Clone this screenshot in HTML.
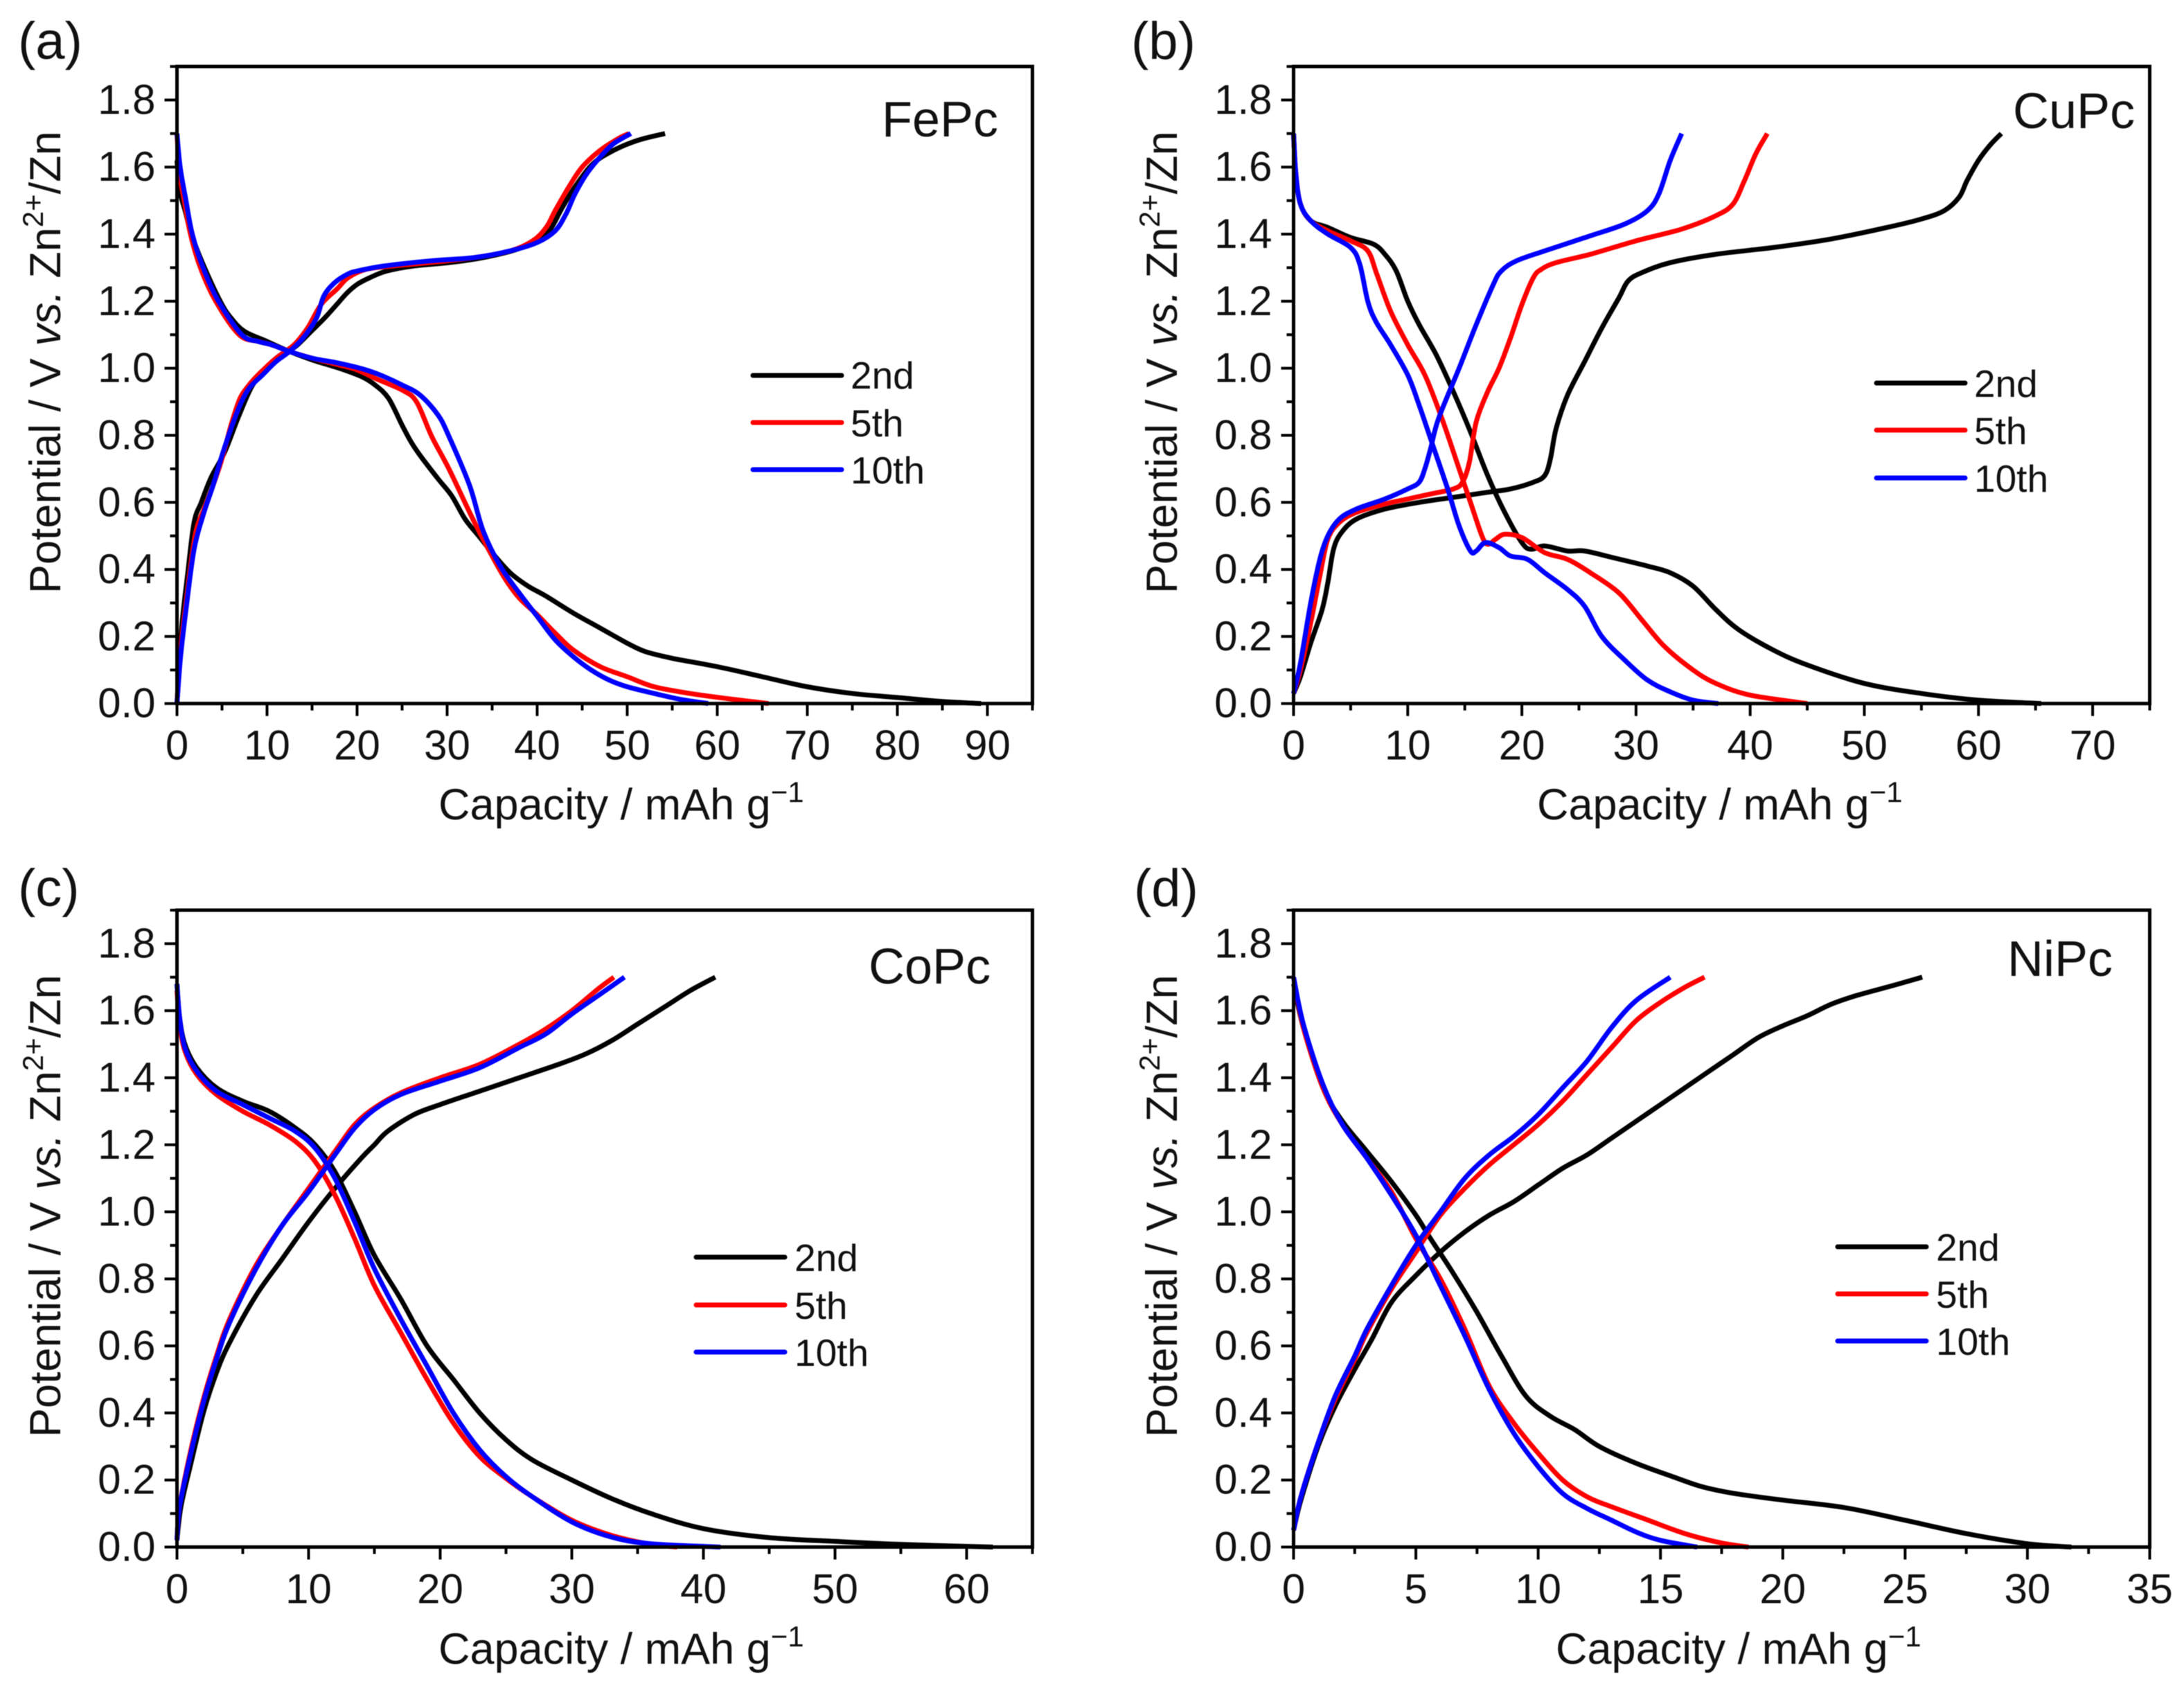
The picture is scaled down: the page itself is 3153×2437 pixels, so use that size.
<!DOCTYPE html>
<html>
<head>
<meta charset="utf-8">
<title>Charge-discharge curves of metal phthalocyanines</title>
<style>
html,body{margin:0;padding:0;background:#fff;}
svg{display:block;filter:blur(0.6px);}
text{font-family:"Liberation Sans",Arial,sans-serif;fill:#111;}
.tick{font-size:60px;}
.title{font-size:63px;}
.plabel{font-size:76px;}
.name{font-size:72px;}
.leg{font-size:55px;}
</style>
</head>
<body>
<svg id="figure" xmlns="http://www.w3.org/2000/svg" width="3153" height="2437" viewBox="0 0 3153 2437">
  <rect width="3153" height="2437" fill="#fff"/>

  <g id="panel-a"></g>
  <g id="panel-b"></g>
  <g id="panel-c"></g>
  <g id="panel-d"></g>

  <text class="plabel" x="26" y="85">(a)</text>
  <text class="plabel" x="1633" y="85">(b)</text>
  <text class="plabel" x="26" y="1308">(c)</text>
  <text class="plabel" x="1637" y="1308">(d)</text>

  <text class="name" x="1273" y="197">FePc</text>
  <text class="name" x="2906" y="185">CuPc</text>
  <text class="name" x="1254" y="1420">CoPc</text>
  <text class="name" x="2898" y="1409">NiPc</text>

  <text class="title" x="633" y="1183">Capacity / mAh g<tspan dy="-25" font-size="42">−1</tspan></text>
  <text class="title" x="2219" y="1183">Capacity / mAh g<tspan dy="-25" font-size="42">−1</tspan></text>
  <text class="title" x="633" y="2402">Capacity / mAh g<tspan dy="-25" font-size="42">−1</tspan></text>
  <text class="title" x="2246" y="2402">Capacity / mAh g<tspan dy="-25" font-size="42">−1</tspan></text>

  <text class="title" transform="translate(87,857) rotate(-90)">Potential / V <tspan font-style="italic">vs.</tspan> Zn<tspan dy="-25" font-size="42">2+</tspan><tspan dy="25">/Zn</tspan></text>
  <text class="title" transform="translate(1699,857) rotate(-90)">Potential / V <tspan font-style="italic">vs.</tspan> Zn<tspan dy="-25" font-size="42">2+</tspan><tspan dy="25">/Zn</tspan></text>
  <text class="title" transform="translate(87,2075) rotate(-90)">Potential / V <tspan font-style="italic">vs.</tspan> Zn<tspan dy="-25" font-size="42">2+</tspan><tspan dy="25">/Zn</tspan></text>
  <text class="title" transform="translate(1699,2075) rotate(-90)">Potential / V <tspan font-style="italic">vs.</tspan> Zn<tspan dy="-25" font-size="42">2+</tspan><tspan dy="25">/Zn</tspan></text>

  <g stroke-width="7" fill="none" stroke-linecap="round">
    <line x1="1087" x2="1215" y1="542" y2="542" stroke="#000"/>
    <line x1="1087" x2="1215" y1="610" y2="610" stroke="#f00"/>
    <line x1="1087" x2="1215" y1="678" y2="678" stroke="#00f"/>
    <text class="leg" x="1228" y="561" stroke="none">2nd</text>
    <text class="leg" x="1228" y="630" stroke="none">5th</text>
    <text class="leg" x="1228" y="698" stroke="none">10th</text>
  </g>
  <g stroke-width="7" fill="none" stroke-linecap="round">
    <line x1="2709" x2="2837" y1="553" y2="553" stroke="#000"/>
    <line x1="2709" x2="2837" y1="621" y2="621" stroke="#f00"/>
    <line x1="2709" x2="2837" y1="690" y2="690" stroke="#00f"/>
    <text class="leg" x="2850" y="573" stroke="none">2nd</text>
    <text class="leg" x="2850" y="641" stroke="none">5th</text>
    <text class="leg" x="2850" y="710" stroke="none">10th</text>
  </g>
  <g stroke-width="7" fill="none" stroke-linecap="round">
    <line x1="1005" x2="1133" y1="1815" y2="1815" stroke="#000"/>
    <line x1="1005" x2="1133" y1="1884" y2="1884" stroke="#f00"/>
    <line x1="1005" x2="1133" y1="1952" y2="1952" stroke="#00f"/>
    <text class="leg" x="1147" y="1835" stroke="none">2nd</text>
    <text class="leg" x="1147" y="1904" stroke="none">5th</text>
    <text class="leg" x="1147" y="1972" stroke="none">10th</text>
  </g>
  <g stroke-width="7" fill="none" stroke-linecap="round">
    <line x1="2653" x2="2781" y1="1800" y2="1800" stroke="#000"/>
    <line x1="2653" x2="2781" y1="1868" y2="1868" stroke="#f00"/>
    <line x1="2653" x2="2781" y1="1936" y2="1936" stroke="#00f"/>
    <text class="leg" x="2795" y="1820" stroke="none">2nd</text>
    <text class="leg" x="2795" y="1888" stroke="none">5th</text>
    <text class="leg" x="2795" y="1956" stroke="none">10th</text>
  </g>
</svg>
<script>
// Shared y axis
const yMajorTicks = [0,0.2,0.4,0.6,0.8,1.0,1.2,1.4,1.6,1.8];
const yMinorTicks = [0.1,0.3,0.5,0.7,0.9,1.1,1.3,1.5,1.7,1.9];
const yMax = 1.9;

// Panel a: FePc
const xMajorA = [0,10,20,30,40,50,60,70,80,90];
const xMinorA = [5,15,25,35,45,55,65,75,85,95];
const xMaxA = 95;
const aCharge2nd = [[0,0],[0.5,0.22],[1.2,0.39],[1.9,0.54],[2.7,0.6],[3.8,0.675],[5.3,0.75],[6.9,0.86],[8.4,0.95],[10,1.0],[11.9,1.04],[13.4,1.07],[14.9,1.11],[16.4,1.15],[17.9,1.195],[18.9,1.225],[20,1.25],[21.4,1.27],[23.3,1.29],[26.3,1.305],[30.2,1.315],[34,1.33],[37.8,1.355],[40.5,1.39],[41.6,1.42],[42.8,1.48],[44.3,1.545],[46.2,1.61],[48.5,1.65],[51.2,1.68],[54.2,1.7]];
const aDischarge2nd = [[0,1.62],[0.3,1.53],[0.9,1.47],[1.6,1.4],[2.9,1.31],[4.8,1.2],[6,1.15],[7.5,1.11],[10,1.08],[12.5,1.05],[15,1.025],[18,1.0],[20.5,0.975],[22,0.95],[23.5,0.91],[25,0.83],[26,0.78],[27,0.74],[29,0.67],[30.5,0.62],[32,0.55],[33.5,0.5],[35,0.45],[37,0.39],[39,0.35],[41,0.32],[44,0.27],[47,0.225],[50,0.18],[52,0.155],[55,0.135],[60,0.11],[65,0.08],[70,0.05],[75,0.03],[80,0.018],[85,0.006],[89.3,0]];
const aCharge5th = [[0,0],[0.4,0.16],[1,0.3],[2,0.5],[3,0.58],[4,0.65],[5,0.73],[6,0.83],[7,0.91],[8,0.95],[9,0.98],[11,1.03],[13,1.07],[14.5,1.12],[16,1.19],[17.8,1.237],[19,1.27],[21,1.295],[24,1.305],[28,1.315],[33,1.33],[37,1.35],[39.5,1.38],[41,1.42],[42,1.47],[43.5,1.54],[45,1.6],[47,1.65],[49,1.685],[50.2,1.7]];
const aDischarge5th = [[0,1.7],[0.3,1.58],[0.8,1.5],[1.5,1.4],[2.6,1.3],[4.3,1.2],[6.9,1.1],[9,1.08],[10.5,1.07],[12.5,1.05],[15,1.03],[18,1.01],[20,0.995],[22,0.97],[25,0.935],[26.6,0.9],[28.3,0.796],[30.2,0.7],[32.5,0.57],[34,0.49],[36.3,0.378],[38,0.315],[40,0.265],[42,0.21],[44,0.16],[47,0.11],[50,0.08],[53,0.05],[57,0.03],[61,0.015],[65.7,0]];
const aCharge10th = [[0,0],[0.4,0.14],[1,0.28],[1.9,0.46],[3,0.57],[4,0.65],[5,0.74],[6,0.82],[7,0.89],[8,0.94],[9.5,0.98],[11,1.02],[12.5,1.05],[14,1.09],[15.5,1.15],[16.3,1.215],[17.5,1.255],[18.9,1.28],[20,1.29],[23,1.305],[28,1.32],[33,1.33],[37,1.35],[40,1.375],[42,1.41],[43.2,1.46],[44.2,1.52],[45.5,1.58],[47,1.63],[48.5,1.67],[50.4,1.7]];
const aDischarge10th = [[0,1.7],[0.35,1.6],[1,1.5],[1.7,1.4],[2.9,1.3],[4.6,1.2],[7.2,1.1],[9,1.08],[10.5,1.07],[12.5,1.05],[15,1.03],[18,1.015],[21,0.995],[23,0.975],[25,0.95],[27,0.92],[29,0.86],[30.2,0.797],[32.5,0.65],[34,0.515],[35.9,0.41],[38,0.33],[40,0.26],[42,0.19],[44,0.14],[46,0.1],[48,0.07],[50,0.05],[53,0.03],[56,0.012],[59,0]];

// Panel b: CuPc
const xMajorB = [0,10,20,30,40,50,60,70];
const xMinorB = [5,15,25,35,45,55,65,75];
const xMaxB = 75;
const bCharge2nd = [[0,0.03],[0.6,0.08],[1.5,0.18],[2.5,0.28],[3,0.36],[3.5,0.46],[4.2,0.51],[5.5,0.55],[8,0.58],[11,0.6],[14,0.615],[17,0.63],[19,0.64],[21,0.66],[22,0.68],[22.5,0.73],[23,0.82],[24,0.92],[25.5,1.02],[27,1.12],[28.5,1.21],[29.3,1.26],[30.5,1.285],[33,1.315],[37,1.34],[42,1.36],[47,1.385],[52,1.42],[55,1.445],[57,1.47],[58.3,1.51],[59,1.56],[60,1.62],[61,1.665],[62,1.7]];
const bDischarge2nd = [[0,1.7],[0.2,1.58],[0.6,1.49],[1.5,1.44],[3,1.42],[5,1.39],[7,1.37],[8,1.34],[9,1.29],[10,1.2],[11,1.13],[12.5,1.04],[14,0.93],[15.5,0.81],[17,0.68],[18.5,0.57],[20,0.48],[20.8,0.46],[22,0.47],[24,0.455],[25.5,0.455],[28,0.435],[31,0.41],[33,0.39],[35,0.35],[37,0.28],[39,0.22],[42,0.16],[45,0.115],[50,0.06],[55,0.03],[60,0.01],[65.5,0]];
const bCharge5th = [[0,0.03],[0.6,0.1],[1.5,0.24],[2.3,0.38],[3,0.49],[4,0.54],[5.5,0.57],[8,0.595],[10,0.61],[12,0.625],[14,0.64],[14.8,0.66],[15.4,0.72],[16,0.84],[17,0.93],[18,1.0],[19,1.09],[20,1.19],[21,1.27],[21.7,1.295],[23,1.315],[26,1.34],[30,1.38],[34,1.415],[37,1.455],[38.5,1.49],[39.5,1.56],[40.5,1.64],[41.5,1.7]];
const bDischarge5th = [[0,1.7],[0.2,1.58],[0.6,1.49],[1.5,1.44],[3,1.41],[5,1.38],[6.5,1.35],[7.3,1.28],[8.5,1.17],[10,1.07],[11.5,0.98],[13,0.85],[14.5,0.7],[15.5,0.6],[16.5,0.5],[17,0.475],[17.7,0.49],[18.5,0.505],[20,0.495],[22,0.45],[24,0.43],[26,0.39],[28.5,0.33],[30.5,0.25],[32.5,0.17],[35,0.1],[37,0.06],[40,0.025],[45,0]];
const bCharge10th = [[0,0.03],[0.6,0.12],[1.5,0.3],[2.3,0.43],[3,0.5],[4,0.55],[5.5,0.58],[8,0.61],[10,0.64],[11,0.66],[11.5,0.7],[12,0.76],[12.7,0.85],[14.5,1.0],[16,1.13],[17.5,1.25],[18.2,1.29],[19.5,1.32],[22,1.35],[26,1.395],[29,1.43],[31,1.47],[32,1.52],[33,1.62],[34,1.7]];
const bDischarge10th = [[0,1.7],[0.2,1.58],[0.6,1.49],[1.5,1.44],[3,1.4],[5,1.36],[5.8,1.31],[6.5,1.2],[7.2,1.14],[8.5,1.07],[10,0.98],[11,0.89],[12,0.79],[13.5,0.64],[14.5,0.53],[15.5,0.455],[16,0.455],[16.8,0.48],[18,0.465],[19,0.44],[20.5,0.43],[22,0.39],[24,0.34],[25.5,0.29],[27,0.2],[29,0.13],[31,0.07],[33,0.035],[35,0.01],[37.2,0]];

// Panel c: CoPc
const xMajorC = [0,10,20,30,40,50,60];
const xMinorC = [5,15,25,35,45,55,65];
const xMaxC = 65;
const cCharge2nd = [[0,0.02],[0.3,0.12],[1,0.24],[2,0.4],[3,0.52],[4,0.61],[6,0.75],[8,0.86],[10,0.97],[12,1.07],[14,1.16],[15,1.2],[16,1.24],[18,1.29],[20,1.32],[23,1.36],[26,1.4],[29,1.44],[31,1.47],[33,1.51],[35,1.56],[37,1.61],[39,1.66],[40.9,1.7]];
const cDischarge2nd = [[0,1.68],[0.2,1.58],[0.6,1.5],[1.5,1.43],[3,1.37],[5,1.33],[7,1.3],[9,1.25],[10.5,1.2],[12,1.12],[13.5,1.0],[15,0.87],[17,0.74],[19,0.6],[21,0.5],[23,0.4],[25,0.32],[27,0.26],[30,0.2],[33,0.145],[36,0.1],[40,0.055],[45,0.028],[50,0.017],[55,0.008],[62,0]];
const cCharge5th = [[0,0.02],[0.2,0.12],[1,0.28],[2,0.44],[3,0.57],[4,0.68],[6,0.84],[8,0.96],[10,1.07],[12,1.18],[13.5,1.26],[15,1.31],[17,1.355],[20,1.4],[23,1.44],[26,1.5],[28,1.545],[30,1.6],[32,1.665],[33.2,1.7]];
const cDischarge5th = [[0,1.66],[0.2,1.56],[0.6,1.48],[1.5,1.41],[3,1.35],[5,1.3],[7,1.26],[9,1.21],[10.5,1.15],[12,1.05],[13.5,0.92],[15,0.78],[17,0.64],[19,0.5],[21,0.37],[23,0.27],[25,0.205],[27,0.15],[30,0.08],[33,0.035],[36,0.008],[38,0]];
const cCharge10th = [[0,0.02],[0.2,0.12],[1,0.27],[2,0.43],[3,0.56],[4,0.67],[6,0.83],[8,0.96],[10,1.06],[12,1.17],[13.5,1.25],[15,1.305],[17,1.35],[20,1.39],[23,1.43],[26,1.49],[28,1.53],[30,1.59],[32,1.645],[34,1.7]];
const cDischarge10th = [[0,1.68],[0.2,1.58],[0.6,1.49],[1.5,1.42],[3,1.36],[5,1.32],[7,1.28],[9,1.24],[10.5,1.19],[12,1.1],[13.5,0.97],[15,0.83],[17,0.68],[19,0.54],[21,0.4],[23,0.29],[25,0.21],[27,0.15],[30,0.075],[33,0.03],[36,0.01],[41.3,0]];

// Panel d: NiPc
const xMajorD = [0,5,10,15,20,25,30,35];
const xMinorD = [2.5,7.5,12.5,17.5,22.5,27.5,32.5];
const xMaxD = 35;
const dCharge2nd = [[0,0.05],[0.3,0.14],[1,0.3],[1.7,0.42],[2.5,0.53],[3.2,0.62],[4,0.73],[5,0.81],[6,0.88],[7,0.94],[8,0.99],[9,1.03],[10,1.08],[11,1.13],[12,1.17],[13,1.22],[14,1.27],[15,1.32],[16,1.37],[17,1.42],[18,1.47],[19,1.52],[20,1.555],[21,1.585],[22,1.62],[23,1.645],[24.5,1.675],[25.7,1.7]];
const dDischarge2nd = [[0,1.68],[0.4,1.55],[1.2,1.37],[2,1.27],[3,1.18],[4,1.09],[5,0.99],[5.6,0.92],[6.5,0.82],[7.5,0.7],[8.5,0.57],[9.5,0.45],[10.5,0.39],[11.5,0.35],[12.5,0.3],[14,0.25],[15.5,0.21],[16.7,0.18],[18,0.16],[20,0.14],[22.5,0.118],[25,0.08],[27.5,0.04],[30,0.01],[31.8,0]];
const dCharge5th = [[0,0.05],[0.3,0.15],[1,0.31],[1.7,0.44],[2.5,0.56],[3,0.64],[4,0.77],[5,0.88],[6,0.99],[7,1.07],[8,1.14],[9,1.2],[10,1.26],[11,1.33],[12,1.41],[13,1.49],[14,1.57],[15,1.625],[16,1.67],[16.8,1.7]];
const dDischarge5th = [[0,1.7],[0.4,1.55],[1.2,1.37],[2,1.26],[3,1.16],[4,1.06],[5,0.92],[6,0.8],[7,0.65],[8,0.48],[9,0.37],[10,0.28],[11,0.2],[12,0.15],[13,0.12],[14.5,0.08],[16,0.04],[17.5,0.012],[18.6,0]];
const dCharge10th = [[0,0.05],[0.3,0.15],[1,0.31],[1.7,0.45],[2.5,0.57],[3,0.65],[4,0.78],[5,0.9],[6,1.0],[7,1.1],[8,1.17],[9,1.225],[10,1.29],[11,1.37],[12,1.45],[13,1.55],[14,1.63],[15.4,1.7]];
const dDischarge10th = [[0,1.7],[0.4,1.56],[1.2,1.38],[2,1.26],[3,1.16],[4,1.05],[5,0.93],[6,0.78],[7,0.63],[8,0.47],[9,0.34],[10,0.24],[11,0.16],[12,0.115],[13,0.08],[14,0.045],[15,0.02],[16.5,0]];

const NS = 'http://www.w3.org/2000/svg';
const strokes = ['#000000','#ff0000','#0000ff'];
const cycles = ['2nd','5th','10th'];

function node(parent, tag, props) {
  const el = document.createElementNS(NS, tag);
  for (const k in props) el.setAttribute(k, props[k]);
  parent.appendChild(el);
  return el;
}

function smoothPath(pts) {
  let d = 'M' + pts[0][0].toFixed(1) + ' ' + pts[0][1].toFixed(1);
  for (let i = 0; i < pts.length - 1; i++) {
    const p0 = pts[Math.max(i - 1, 0)], p1 = pts[i], p2 = pts[i + 1], p3 = pts[Math.min(i + 2, pts.length - 1)];
    const c1x = p1[0] + (p2[0] - p0[0]) / 6, c1y = p1[1] + (p2[1] - p0[1]) / 6;
    const c2x = p2[0] - (p3[0] - p1[0]) / 6, c2y = p2[1] - (p3[1] - p1[1]) / 6;
    d += 'C' + c1x.toFixed(1) + ' ' + c1y.toFixed(1) + ' ' + c2x.toFixed(1) + ' ' + c2y.toFixed(1) + ' ' + p2[0].toFixed(1) + ' ' + p2[1].toFixed(1);
  }
  return d;
}

function drawPanel(id, box, xMax, xMajor, xMinor, series) {
  const g = document.getElementById(id);
  const sx = v => box.left + (v / xMax) * (box.right - box.left);
  const sy = v => box.bottom - (v / yMax) * (box.bottom - box.top);

  series.forEach((pair, s) => {
    pair.forEach((pts, k) => {
      const path = node(g, 'path', {
        d: smoothPath(pts.map(p => [sx(p[0]), sy(p[1])])),
        fill: 'none', stroke: strokes[s], 'stroke-width': 7, 'stroke-linejoin': 'round'
      });
      
      
    });
  });

  const frame = node(g, 'rect', {
    x: box.left, y: box.top, width: box.right - box.left, height: box.bottom - box.top,
    fill: 'none', stroke: '#000', 'stroke-width': 5
  });
  
  

  xMajor.forEach(v => {
    const t = node(g, 'line', {x1: sx(v), x2: sx(v), y1: box.bottom, y2: box.bottom + 18, stroke: '#000', 'stroke-width': 4});
    
    
    const l = node(g, 'text', {x: sx(v), y: box.bottom + 81, 'text-anchor': 'middle', class: 'tick'});
    l.textContent = String(v);
    
    
  });
  xMinor.forEach(v => {
    const t = node(g, 'line', {x1: sx(v), x2: sx(v), y1: box.bottom, y2: box.bottom + 10, stroke: '#000', 'stroke-width': 4});
    
    
  });
  yMajorTicks.forEach(v => {
    const t = node(g, 'line', {x1: box.left - 18, x2: box.left, y1: sy(v), y2: sy(v), stroke: '#000', 'stroke-width': 4});
    
    
    const l = node(g, 'text', {x: box.left - 31, y: sy(v) + 20, 'text-anchor': 'end', class: 'tick'});
    l.textContent = v.toFixed(1);
    
    
  });
  yMinorTicks.forEach(v => {
    const t = node(g, 'line', {x1: box.left - 10, x2: box.left, y1: sy(v), y2: sy(v), stroke: '#000', 'stroke-width': 4});
    
    
  });
}

drawPanel('panel-a', {left: 255.5, right: 1490.5, top: 96, bottom: 1015.7}, xMaxA, xMajorA, xMinorA,
  [[aCharge2nd, aDischarge2nd], [aCharge5th, aDischarge5th], [aCharge10th, aDischarge10th]]);
drawPanel('panel-b', {left: 1867.5, right: 3103.5, top: 96, bottom: 1015.7}, xMaxB, xMajorB, xMinorB,
  [[bCharge2nd, bDischarge2nd], [bCharge5th, bDischarge5th], [bCharge10th, bDischarge10th]]);
drawPanel('panel-c', {left: 255.5, right: 1490.5, top: 1314, bottom: 2233.5}, xMaxC, xMajorC, xMinorC,
  [[cCharge2nd, cDischarge2nd], [cCharge5th, cDischarge5th], [cCharge10th, cDischarge10th]]);
drawPanel('panel-d', {left: 1867.5, right: 3103.5, top: 1314, bottom: 2233.5}, xMaxD, xMajorD, xMinorD,
  [[dCharge2nd, dDischarge2nd], [dCharge5th, dDischarge5th], [dCharge10th, dDischarge10th]]);
</script>
</body>
</html>
